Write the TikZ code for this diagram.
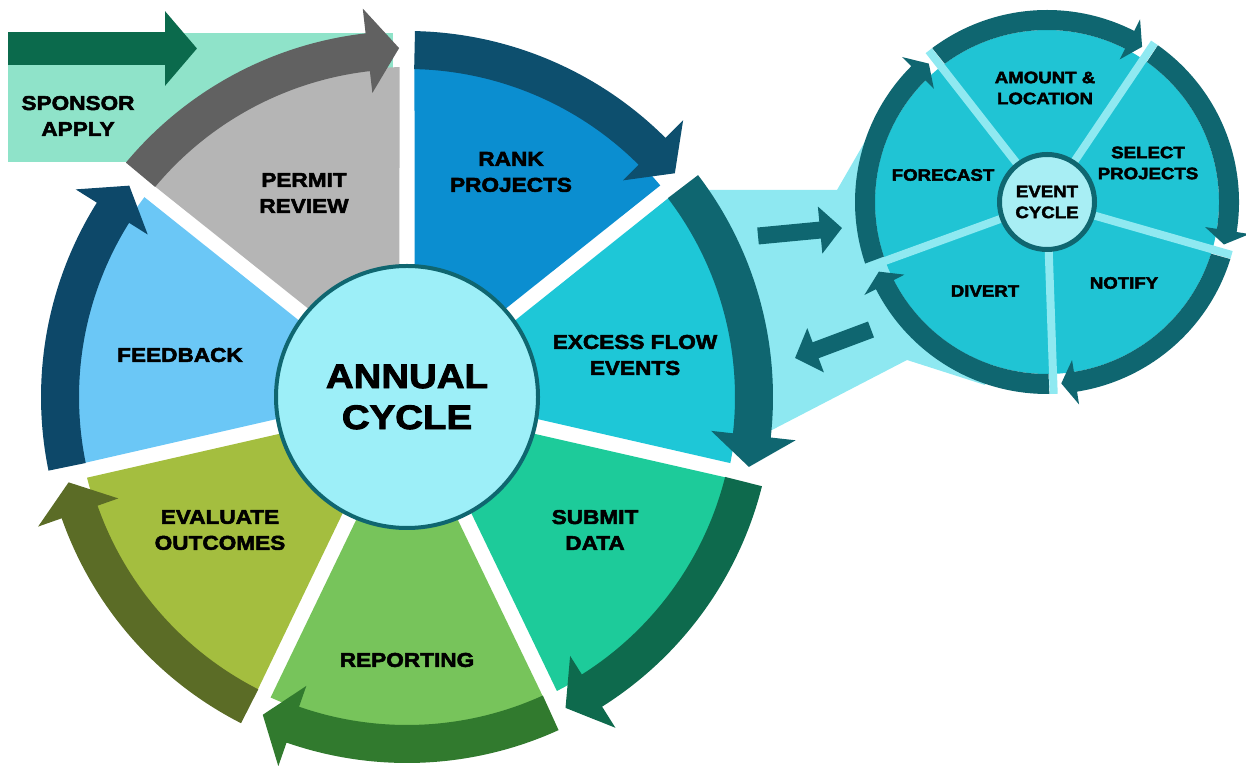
\documentclass[tikz,border=0pt]{standalone}
\usepackage{fontspec}
\setmainfont{Liberation Sans}[BoldFeatures={FakeStretch=1.13,FakeBold=2.6}]
\usepackage{tikz}
\usetikzlibrary{arrows.meta}
\definecolor{sponsormint}{HTML}{8FE3C9}
\definecolor{sponsorgreen}{HTML}{0B6A4C}
\definecolor{linkcyan}{HTML}{8EE8F1}
\definecolor{permitgray}{HTML}{B5B5B5}
\definecolor{permitdark}{HTML}{616161}
\definecolor{rankblue}{HTML}{0B8ED0}
\definecolor{rankdark}{HTML}{0D4F6E}
\definecolor{excesscyan}{HTML}{1EC7D7}
\definecolor{ringteal}{HTML}{0F6670}
\definecolor{submitgreen}{HTML}{1DCB9A}
\definecolor{submitdark}{HTML}{0E6A4D}
\definecolor{reportgreen}{HTML}{77C45B}
\definecolor{reportdark}{HTML}{317A2E}
\definecolor{evalolive}{HTML}{A4BE3F}
\definecolor{evaldark}{HTML}{5B6C26}
\definecolor{feedblue}{HTML}{6BC7F6}
\definecolor{feeddark}{HTML}{0D4869}
\definecolor{annualfill}{HTML}{9DEFF8}
\definecolor{eventcyan}{HTML}{20C4D4}
\definecolor{eventgap}{HTML}{8FE9F1}
\definecolor{eventfill}{HTML}{A8EEF4}
\tikzset{cyclelabel/.style={font=\fontsize{20}{26}\selectfont\bfseries,align=center,inner sep=0},
    eventlabel/.style={font=\fontsize{16.5}{21}\selectfont\bfseries,align=center,inner sep=0},
    linkarrow/.style={draw=ringteal,line width=17pt,-{Triangle[length=22pt,width=46pt]}},
    eventgapline/.style={draw=eventgap,line width=8pt}
}
\newcommand{\annualwedge}[3]
{
% args: (start angle, wedge colour, arrow colour), clockwise over 360/7 degrees
    \pgfmathsetmacro\wedgeend{#1-360/7}
    \pgfmathsetmacro\fillstart{#1-1.3}
    \pgfmathsetmacro\fillend{\wedgeend+1.3}
    \pgfmathsetmacro\bandstart{#1-1.25}
    \pgfmathsetmacro\headback{\wedgeend+6.5}

    \fill [#2] ({#1-3.6}:120) -- (\fillstart:330) arc [start angle=\fillstart, end angle=\fillend, radius=330]
        -- ({\wedgeend+3.6}:120) -- cycle;
    \fill [#3] (\bandstart:328) -- (\bandstart:366) arc [start angle=\bandstart, end angle=\headback, radius=366]
        -- (\headback:391) -- (\fillend:349) -- (\headback:306) -- (\headback:328)
        arc [start angle=\headback, end angle=\bandstart, radius=328] -- cycle;
}
\newcommand{\eventarc}[1]
{
% args: (start angle), clockwise over 72 degrees
    \pgfmathsetmacro\arcend{#1-72}
    \pgfmathsetmacro\arcinstart{#1-1.5}
    \pgfmathsetmacro\arcoutstart{#1-1.3}
    \pgfmathsetmacro\archeadback{\arcend+7}

    \fill [ringteal] (\arcinstart:172) -- (\arcoutstart:192) arc [start angle=\arcoutstart, end angle=\archeadback, radius=192]
        -- (\archeadback:205) -- ({\arcend+2.5}:182) -- (\archeadback:160) -- (\archeadback:172)
        arc [start angle=\archeadback, end angle=\arcinstart, radius=172] -- cycle;
}
\begin{document}
\begin{tikzpicture}[x=1pt,y=1pt]

\useasboundingbox (0,0) rectangle (1246,765);

% sponsor entry

\fill [sponsormint] (8,603) rectangle (393,732);
\coordinate (sponsorTail) at (8,716.5);
\coordinate (sponsorTip) at (197,716.5);
\draw [sponsorgreen,line width=33pt,-{Triangle[length=32pt,width=73pt]}] (sponsorTail) -- (sponsorTip);
\node (sponsor) at (78,649) [cyclelabel] {SPONSOR\\APPLY};

% band joining the two cycles

\fill [linkcyan] (700,575) -- (837,575) -- (882,653) -- (1047,563) -- (985,380) -- (907,405) -- (770,334) -- (700,334) -- cycle;

% annual cycle

\begin{scope}[shift={(407,368)}]
    \annualwedge{90}{rankblue}{rankdark}
    \annualwedge{38.5714}{excesscyan}{ringteal}
    \annualwedge{-12.8571}{submitgreen}{submitdark}
    \annualwedge{-64.2857}{reportgreen}{reportdark}
    \annualwedge{-115.7143}{evalolive}{evaldark}
    \annualwedge{-167.1429}{feedblue}{feeddark}
    \annualwedge{-218.5714}{permitgray}{permitdark}
\end{scope}

\node (annual) at (407,368) [circle,fill=annualfill,draw=ringteal,line width=4pt,minimum size=262pt,
    align=center,font=\fontsize{34}{41}\selectfont\bfseries] {ANNUAL\\CYCLE};

\node (rank) at (511,593) [cyclelabel] {RANK\\PROJECTS};
\node (excess) at (635,410) [cyclelabel] {EXCESS FLOW\\EVENTS};
\node (submit) at (595,235) [cyclelabel] {SUBMIT\\DATA};
\node (reporting) at (407,105) [cyclelabel] {REPORTING};
\node (evaluate) at (220,235) [cyclelabel] {EVALUATE\\OUTCOMES};
\node (feedback) at (180,410) [cyclelabel] {FEEDBACK};
\node (permit) at (304,572) [cyclelabel] {PERMIT\\REVIEW};

% event cycle

\begin{scope}[shift={(1047,563)}]
    \fill [eventcyan] (0,0) circle [radius=172];
    \foreach \g in {128,56,...,-160}
        \draw [eventgapline] (0,0) -- (\g:192);
    \foreach \s in {128,56,...,-160}
    {
        \eventarc{\s}
    }
\end{scope}

\node (event) at (1047,563) [circle,fill=eventfill,draw=ringteal,line width=5pt,minimum size=95pt,eventlabel] {EVENT\\CYCLE};

\node (amount) at (1045,677) [eventlabel] {AMOUNT \&\\LOCATION};
\node (select) at (1148,602) [eventlabel] {SELECT\\PROJECTS};
\node (notify) at (1124,482) [eventlabel] {NOTIFY};
\node (divert) at (985,474) [eventlabel] {DIVERT};
\node (forecast) at (943,590) [eventlabel] {FORECAST};

% arrows between the cycles

\coordinate (toEventTail) at (758,529);
\coordinate (toEventTip) at (842,537);
\coordinate (fromEventTail) at (871,435.5);
\coordinate (fromEventTip) at (795,407);

\draw [linkarrow] (toEventTail) -- (toEventTip);
\draw [linkarrow] (fromEventTail) -- (fromEventTip);

\end{tikzpicture}
\end{document}
